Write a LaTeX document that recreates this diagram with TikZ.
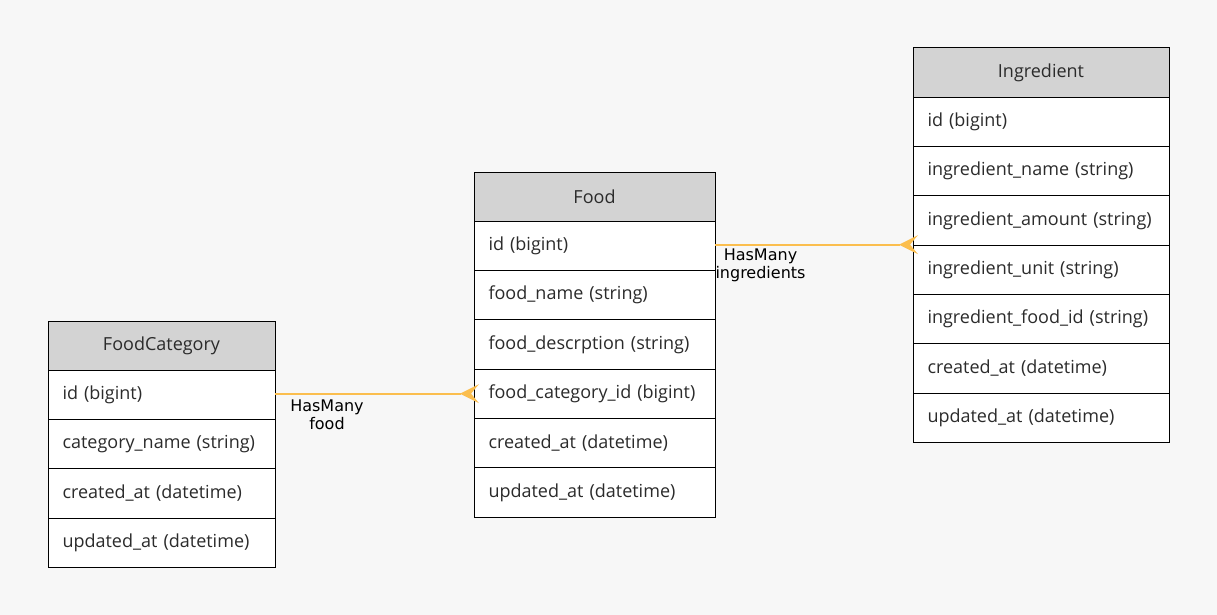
\documentclass[tikz,border=0pt]{standalone}
\usepackage{fontspec}
\setmainfont{Open Sans}
\newfontfamily\labelfont{DejaVu Sans}
\definecolor{bg}{HTML}{F7F7F7}
\definecolor{hdrgray}{HTML}{D3D3D3}
\definecolor{txtgray}{HTML}{2B2B2B}
\definecolor{edgecol}{HTML}{FBBE4E}
\begin{document}
\begin{tikzpicture}[x=1pt,y=-1pt,
  cell/.style={draw=black, line width=1pt, outer sep=0pt, text=txtgray,
    font=\fontsize{18}{21}\selectfont, minimum height=49.3pt, anchor=north west},
  hdr/.style={cell, fill=hdrgray, inner sep=0pt, minimum width=#1, align=center},
  fld/.style={cell, fill=white, inner xsep=14.5pt, inner ysep=0pt, text width=#1, align=left},
  rel/.style={draw=edgecol, line width=2.2pt},
  crow/.style={fill=edgecol},
  lbl/.style={font=\labelfont\fontsize{16}{18}\selectfont, text=black, align=center, inner sep=0pt}]
\useasboundingbox[fill=bg] (0,0) rectangle (1217,615);

% FoodCategory
\node[hdr=227pt] (fch) at (48,321) {FoodCategory};
\node[fld=198pt] (fc1) at (fch.south west) {id (bigint)};
\node[fld=198pt] (fc2) at (fc1.south west) {category\_name (string)};
\node[fld=198pt] (fc3) at (fc2.south west) {created\_at (datetime)};
\node[fld=198pt] (fc4) at (fc3.south west) {updated\_at (datetime)};

% Food
\node[hdr=241pt] (fdh) at (474,172) {Food};
\node[fld=212pt] (fd1) at (fdh.south west) {id (bigint)};
\node[fld=212pt] (fd2) at (fd1.south west) {food\_name (string)};
\node[fld=212pt] (fd3) at (fd2.south west) {food\_descrption (string)};
\node[fld=212pt] (fd4) at (fd3.south west) {food\_category\_id (bigint)};
\node[fld=212pt] (fd5) at (fd4.south west) {created\_at (datetime)};
\node[fld=212pt] (fd6) at (fd5.south west) {updated\_at (datetime)};

% Ingredient
\node[hdr=256pt] (igh) at (913,48) {Ingredient};
\node[fld=227pt] (ig1) at (igh.south west) {id (bigint)};
\node[fld=227pt] (ig2) at (ig1.south west) {ingredient\_name (string)};
\node[fld=227pt] (ig3) at (ig2.south west) {ingredient\_amount (string)};
\node[fld=227pt] (ig4) at (ig3.south west) {ingredient\_unit (string)};
\node[fld=227pt] (ig5) at (ig4.south west) {ingredient\_food\_id (string)};
\node[fld=227pt] (ig6) at (ig5.south west) {created\_at (datetime)};
\node[fld=227pt] (ig7) at (ig6.south west) {updated\_at (datetime)};

% Food -> Ingredient
\coordinate (s1) at ([yshift=1.3pt]fd1.east);
\coordinate (t1) at (s1 -| ig3.south west);
\draw[rel] (s1) -- ([xshift=-13pt]t1);
\fill[crow] ([xshift=-14pt]t1) -- ([shift={(5pt,9.5pt)}]t1) -- ([xshift=-3pt]t1)
  -- ([shift={(5pt,-9.5pt)}]t1) -- cycle;
\node[lbl] (l1) at (760.5,265) {HasMany\\ingredients};

% FoodCategory -> Food
\coordinate (s2) at ([yshift=1.3pt]fc1.east);
\coordinate (t2) at (s2 -| fd4.west);
\draw[rel] (s2) -- ([xshift=-13pt]t2);
\fill[crow] ([xshift=-14pt]t2) -- ([shift={(5pt,9.5pt)}]t2) -- ([xshift=-3pt]t2)
  -- ([shift={(5pt,-9.5pt)}]t2) -- cycle;
\node[lbl] (l2) at (327,415) {HasMany\\food};
\end{tikzpicture}
\end{document}
